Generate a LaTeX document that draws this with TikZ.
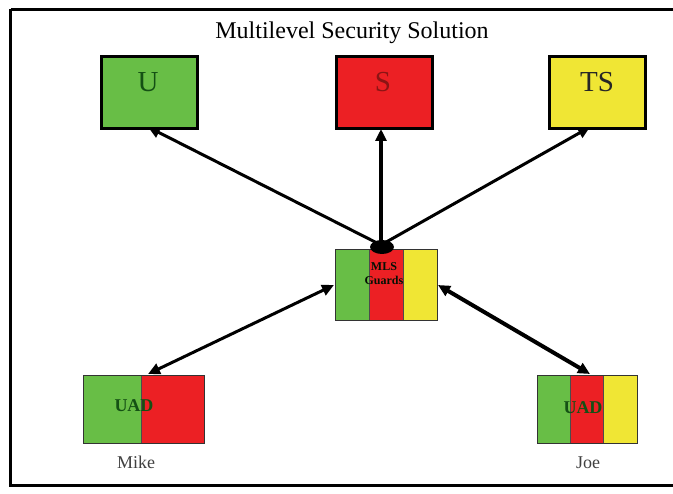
\documentclass[tikz,border=0pt]{standalone}
\usepackage{fontspec}
\setmainfont{Liberation Serif}
\usetikzlibrary{arrows.meta}
\definecolor{gr}{RGB}{104,190,70}
\definecolor{rd}{RGB}{236,32,36}
\definecolor{yl}{RGB}{240,230,52}
\definecolor{dgr}{RGB}{20,80,20}
\definecolor{drd}{RGB}{140,20,20}
\tikzset{
  topbox/.style={draw=black, line width=3pt, minimum width=96pt, minimum height=72pt, inner sep=0pt},
  toplbl/.style={font=\fontsize{29}{29}\selectfont},
  cell/.style={draw=black!70, line width=0.8pt, minimum height=68pt, inner sep=0pt},
  outline/.style={draw=black!80, line width=1pt, inner sep=0pt},
  conn/.style={line width=3pt, -{Triangle[length=12pt,width=11pt]}},
  conn2/.style={line width=3pt, {Triangle[length=12pt,width=11pt]}-{Triangle[length=12pt,width=11pt]}},
  lbl/.style={font=\fontsize{18}{18}\selectfont, text=black!75},
  uad/.style={font=\fontsize{18}{18}\selectfont\bfseries, text=dgr}
}
\begin{document}
\begin{tikzpicture}[x=1pt,y=-1pt]
\useasboundingbox (0,0) rectangle (673,494);
\fill[white] (0,0) rectangle (673,494);
\draw[line width=3.5pt] (10.5,9.5) -- (675,9.5);
\draw[line width=3.5pt] (10.5,9.5) -- (10.5,485.5) -- (675,485.5);
\node (title) at (352,33) {\fontsize{24}{24}\selectfont Multilevel Security Solution};
% top boxes
\node[topbox, fill=gr, anchor=north west] (U) at (100,55) {};
\node[toplbl, text=dgr] (Ut) at (148,82) {U};
\node[topbox, fill=rd, anchor=north west] (S) at (335,55) {};
\node[toplbl, text=drd] (St) at (383,82) {S};
\node[topbox, fill=yl, anchor=north west] (TS) at (548,55) {};
\node[toplbl, text=black!85] (TSt) at (597,82) {TS};
% center MLS guard
\node[cell, fill=gr, minimum width=34pt, minimum height=71pt, anchor=north west] (mg) at (335,249) {};
\node[cell, fill=rd, minimum width=34pt, minimum height=71pt, anchor=north west] (mr) at (369,249) {};
\node[cell, fill=yl, minimum width=34pt, minimum height=71pt, anchor=north west] (my) at (403,249) {};
\node[outline, minimum width=102pt, minimum height=71pt, anchor=north west] (M) at (335,249) {};
\node[font=\fontsize{12}{14}\selectfont\bfseries, text=black!80!dgr, align=center] (mt) at (384,274) {MLS\\Guards};
% Mike
\node[cell, fill=gr, minimum width=58pt, anchor=north west] (kg) at (83,375) {};
\node[cell, fill=rd, minimum width=63pt, anchor=north west] (kr) at (141,375) {};
\node[outline, minimum width=121pt, minimum height=68pt, anchor=north west] (Mike) at (83,375) {};
\node[uad] (kt) at (134,406) {UAD};
\node[lbl] (mikel) at (136,462) {Mike};
% Joe
\node[cell, fill=gr, minimum width=33pt, anchor=north west] (jg) at (537,375) {};
\node[cell, fill=rd, minimum width=33pt, anchor=north west] (jr) at (570,375) {};
\node[cell, fill=yl, minimum width=34pt, anchor=north west] (jy) at (603,375) {};
\node[outline, minimum width=100pt, minimum height=68pt, anchor=north west] (Joe) at (537,375) {};
\node[uad] (jt) at (583,408) {UAD};
\node[lbl] (joel) at (588,463) {Joe};
% connectors
\coordinate (hub) at (381,245);
\coordinate (Ub) at (148,127);
\coordinate (Sb) at (381,129);
\coordinate (TSb) at (590,127);
\draw[conn] (hub) -- (Ub);
\draw[conn, line width=4pt] (hub) -- (Sb);
\draw[conn] (hub) -- (TSb);
\fill[black] (382,247) ellipse (12pt and 7pt);
\coordinate (ML) at (334,285);
\coordinate (MR) at (438,285);
\coordinate (MkT) at (148,374);
\coordinate (JoT) at (590,374);
\draw[conn2] (ML) -- (MkT);
\draw[conn2, line width=4pt] (MR) -- (JoT);
\end{tikzpicture}
\end{document}
